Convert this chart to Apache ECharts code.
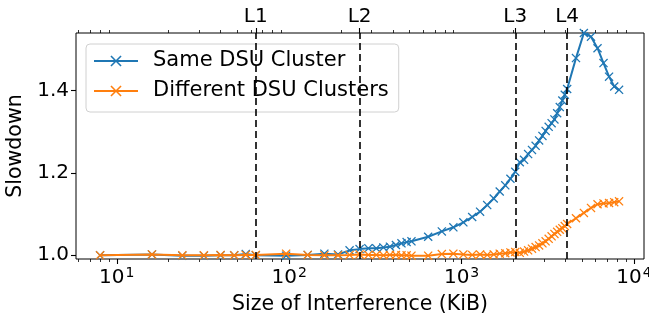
<!DOCTYPE html>
<html>
<head>
<meta charset="utf-8">
<script src="https://cdn.jsdelivr.net/npm/echarts@6/dist/echarts.min.js"></script>
<style>
  html, body { margin: 0; padding: 0; background: #fff; overflow: hidden; }
  #chart { width: 649px; height: 316px; }
</style>
</head>
<body>
<div id="chart"></div>
<script>
// interference sizes (KiB)
const sizes = [8, 16, 24, 32, 40, 48, 56, 64,
  96, 128, 160, 192, 224, 256, 288, 320, 352, 384, 416, 448, 480, 512,
  640, 768, 896, 1024, 1152, 1280, 1408, 1536, 1664, 1792, 1920, 2048,
  2176, 2304, 2432, 2560, 2688, 2816, 2944, 3072, 3200, 3328, 3456, 3584,
  3712, 3840, 3968, 4096,
  4608, 5120, 5632, 6144, 6656, 7168, 7680, 8192];

const sameCluster = [1.000, 1.002, 0.999, 0.999, 1.000, 1.000, 1.003, 1.000,
  0.999, 1.001, 1.004, 1.002, 1.012, 1.015, 1.017, 1.017, 1.019, 1.021, 1.025, 1.029, 1.032, 1.034,
  1.045, 1.058, 1.068, 1.080, 1.093, 1.106, 1.122, 1.138, 1.155, 1.170, 1.186, 1.203,
  1.226, 1.232, 1.246, 1.256, 1.266, 1.279, 1.290, 1.302, 1.312, 1.321, 1.330, 1.345,
  1.360, 1.376, 1.390, 1.404,
  1.479, 1.540, 1.531, 1.503, 1.467, 1.434, 1.410, 1.402];

const diffCluster = [1.000, 1.002, 1.000, 1.000, 1.001, 1.000, 1.001, 1.001,
  1.004, 1.001, 1.000, 1.000, 1.001, 1.002, 1.001, 1.001, 1.000, 1.001, 1.001, 1.000, 1.000, 0.999,
  0.999, 1.003, 1.004, 1.002, 1.001, 1.002, 1.001, 1.002, 1.004, 1.005, 1.007, 1.008,
  1.006, 1.009, 1.012, 1.016, 1.020, 1.024, 1.029, 1.034, 1.040, 1.046, 1.052, 1.057,
  1.062, 1.066, 1.071, 1.076,
  1.090, 1.103, 1.115, 1.124, 1.126, 1.127, 1.129, 1.131];

const cacheSizes = [64, 256, 2048, 4096];
const cacheNames = ['L1', 'L2', 'L3', 'L4'];
const xMajor = [10, 100, 1000, 10000];
const xMinor = [6, 7, 8, 9, 20, 30, 40, 50, 60, 70, 80, 90,
  200, 300, 400, 500, 600, 700, 800, 900,
  2000, 3000, 4000, 5000, 6000, 7000, 8000, 9000];
const yTicks = [1.0, 1.2, 1.4];

const font = 'DejaVu Sans';
const crossPath = 'path://M0,1 L1,0 L5,4 L9,0 L10,1 L6,5 L10,9 L9,10 L5,6 L1,10 L0,9 L4,5 Z';

function logAxis(pos, ticks, len, labels) {
  return {
    type: 'log', logBase: 10, position: pos,
    min: 5.8, max: 11430,
    axisLine: { show: false },
    splitLine: { show: false },
    axisTick: { show: true, customValues: ticks, length: len, lineStyle: { color: '#000', width: len > 4 ? 1.1 : 0.8 } },
    axisLabel: labels || { show: false }
  };
}

const chart = echarts.init(document.getElementById('chart'));

chart.setOption({
  animation: false,
  textStyle: { fontFamily: font },
  grid: {
    left: 76, right: 5, top: 33, bottom: 57,
    outerBoundsMode: 'none',
    show: true, borderColor: '#000', borderWidth: 1, backgroundColor: 'transparent'
  },
  legend: {
    orient: 'vertical', left: 86, top: 44,
    padding: [6, 10, 10, 7],
    itemGap: 8,
    itemWidth: 44, itemHeight: 14,
    backgroundColor: 'rgba(255,255,255,0.8)',
    borderColor: '#d0d0d0', borderWidth: 1, borderRadius: 4,
    textStyle: { fontSize: 21, lineHeight: 22, color: '#000', fontFamily: font, padding: [0, 0, 0, 10] },
    data: ['Same DSU Cluster', 'Different DSU Clusters']
  },
  xAxis: [
    Object.assign(logAxis('bottom', xMajor, 5, {
      show: true, customValues: xMajor, margin: 7,
      formatter: v => '{b|10}{s|' + Math.round(Math.log10(v)) + '}',
      rich: {
        b: { fontSize: 20, color: '#000', fontFamily: font },
        s: { fontSize: 14, color: '#000', fontFamily: font, padding: [0, 0, 10, 1] }
      }
    }), {
      name: 'Size of Interference (KiB)', nameLocation: 'middle', nameGap: 35,
      nameTextStyle: { fontSize: 20.5, color: '#000', fontFamily: font }
    }),
    logAxis('bottom', xMinor, 3),
    logAxis('top', cacheSizes, 5, {
      show: true, customValues: cacheSizes, margin: 6,
      formatter: v => cacheNames[cacheSizes.indexOf(v)],
      fontSize: 20, color: '#000', fontFamily: font
    }),
    logAxis('top', xMinor, 3)
  ],
  yAxis: {
    type: 'value', min: 0.991, max: 1.54,
    name: 'Slowdown', nameLocation: 'middle', nameGap: 50, nameRotate: 90,
    nameTextStyle: { fontSize: 20.5, color: '#000', fontFamily: font },
    axisLine: { show: false },
    splitLine: { show: false },
    axisTick: { show: true, customValues: yTicks, length: 5, lineStyle: { color: '#000', width: 1.1 } },
    axisLabel: { customValues: yTicks, fontSize: 20, color: '#000', margin: 7, formatter: v => v.toFixed(1) }
  },
  series: [
    {
      name: 'Same DSU Cluster', type: 'line', xAxisIndex: 0,
      data: sizes.map((s, i) => [s, sameCluster[i]]),
      symbol: crossPath, symbolSize: 9,
      lineStyle: { color: '#1f77b4', width: 2 },
      itemStyle: { color: '#1f77b4' },
      z: 3,
      markLine: {
        silent: true, symbol: 'none', label: { show: false },
        lineStyle: { color: '#000', type: [7, 4], width: 1.6 },
        data: cacheSizes.map(c => ({ xAxis: c }))
      }
    },
    {
      name: 'Different DSU Clusters', type: 'line', xAxisIndex: 0,
      data: sizes.map((s, i) => [s, diffCluster[i]]),
      symbol: crossPath, symbolSize: 9,
      lineStyle: { color: '#ff7f0e', width: 2 },
      itemStyle: { color: '#ff7f0e' },
      z: 4
    }
  ]
});
</script>
</body>
</html>
